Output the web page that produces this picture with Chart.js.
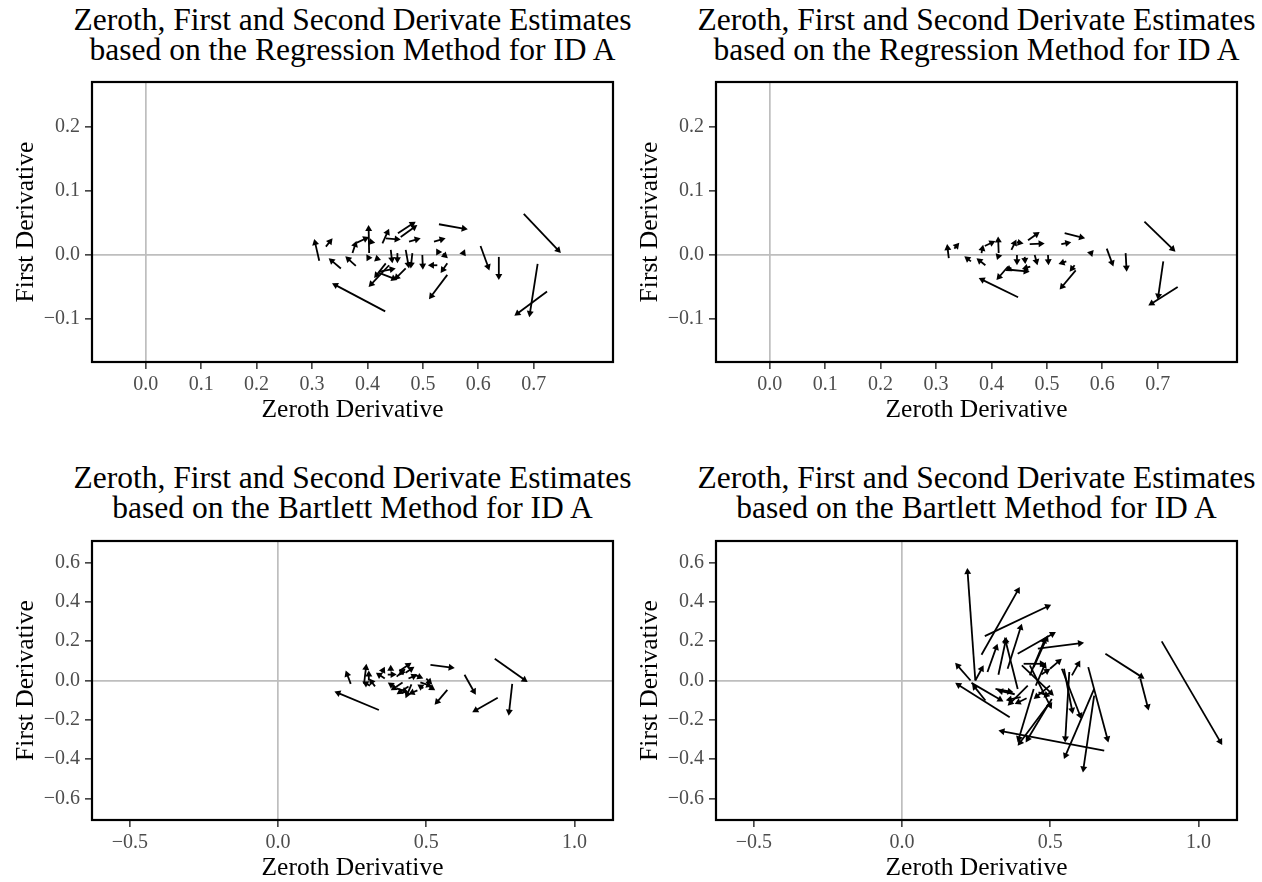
<!DOCTYPE html>
<html>
<head>
<meta charset="utf-8">
<script src="https://cdn.jsdelivr.net/npm/chart.js@4.4.0/dist/chart.umd.min.js"></script>
<style>
  body { margin: 0; background: #fff; }
  #page { position: relative; width: 1262px; height: 882px; }
  .panel { position: absolute; width: 631px; height: 441px; overflow: hidden; }
  .panel canvas { position: absolute; left: 0; top: 0; }
  .title { position: absolute; width: 800px; text-align: center; white-space: nowrap;
           font-family: "Liberation Serif", "Times New Roman", serif; font-size: 31.5px;
           line-height: 30px; color: #000; }
</style>
</head>
<body>
<div id="page"></div>
<script>
// each arrow: [zeroth start, first start, zeroth end, first end]
const regressionLeft = [
  [0.313,-0.009,0.304,0.025], [0.325,0.013,0.337,0.026], [0.352,-0.021,0.330,-0.005],
  [0.379,-0.017,0.360,-0.002], [0.432,-0.088,0.336,-0.044], [0.373,0.003,0.380,0.022],
  [0.380,0.019,0.403,0.028], [0.403,0.003,0.402,0.047], [0.403,0.021,0.414,0.019],
  [0.427,0.018,0.439,0.041], [0.433,0.026,0.460,0.024], [0.455,0.034,0.487,0.052],
  [0.460,0.028,0.490,0.047], [0.475,0.021,0.496,0.026], [0.469,0.008,0.475,-0.021],
  [0.499,0.000,0.500,-0.023], [0.439,-0.016,0.402,-0.050], [0.469,-0.021,0.448,-0.039],
  [0.442,0.008,0.445,-0.013], [0.454,0.003,0.454,-0.013], [0.421,-0.026,0.451,-0.021],
  [0.433,-0.013,0.412,-0.036], [0.421,-0.028,0.454,-0.039], [0.481,0.003,0.478,-0.021],
  [0.403,-0.006,0.398,0.001], [0.420,-0.004,0.412,-0.010], [0.529,0.048,0.581,0.040],
  [0.520,0.021,0.541,0.026], [0.682,0.064,0.749,0.003], [0.604,0.014,0.620,-0.024],
  [0.637,-0.003,0.637,-0.039], [0.707,-0.014,0.692,-0.097], [0.724,-0.057,0.665,-0.095],
  [0.544,-0.031,0.511,-0.069], [0.544,-0.013,0.532,-0.028], [0.526,-0.016,0.509,-0.016],
  [0.574,0.005,0.576,0.009], [0.528,0.004,0.524,0.010], [0.536,0.002,0.545,-0.005]
];
const regressionRight = [
  [0.323,-0.005,0.320,0.017], [0.333,0.010,0.342,0.019], [0.363,-0.010,0.351,-0.002],
  [0.389,-0.016,0.373,-0.005], [0.448,-0.066,0.377,-0.036], [0.382,0.003,0.385,0.016],
  [0.388,0.014,0.407,0.022], [0.413,0.003,0.412,0.029], [0.436,0.008,0.445,0.024],
  [0.446,0.020,0.458,0.018], [0.466,0.023,0.487,0.036], [0.469,0.017,0.496,0.018],
  [0.430,-0.018,0.409,-0.039], [0.433,-0.023,0.469,-0.026], [0.446,0.000,0.446,-0.016],
  [0.460,-0.003,0.461,-0.014], [0.478,0.000,0.483,-0.016], [0.502,0.000,0.503,-0.016],
  [0.436,-0.020,0.425,-0.025], [0.470,-0.018,0.455,-0.022], [0.412,-0.003,0.410,-0.008],
  [0.532,0.034,0.569,0.026], [0.526,0.017,0.544,0.020], [0.676,0.052,0.732,0.005],
  [0.608,0.010,0.620,-0.018], [0.642,0.003,0.644,-0.026], [0.710,-0.010,0.700,-0.070],
  [0.736,-0.050,0.683,-0.079], [0.552,-0.024,0.523,-0.054], [0.550,-0.016,0.541,-0.026],
  [0.535,-0.010,0.521,-0.014], [0.580,0.002,0.582,-0.003]
];
const bartlettLeft = [
  [0.340,-0.150,0.190,-0.056], [0.245,-0.017,0.228,0.051], [0.290,-0.017,0.298,0.085],
  [0.310,-0.026,0.284,-0.005], [0.306,0.000,0.306,0.051], [0.327,-0.030,0.307,0.010],
  [0.36,0.01,0.33,0.04], [0.37,0.03,0.40,0.03], [0.40,0.02,0.43,0.06],
  [0.41,0.05,0.45,0.09], [0.43,0.04,0.46,0.07], [0.44,0.01,0.47,0.03],
  [0.46,0.03,0.49,0.01], [0.48,-0.01,0.52,-0.03], [0.50,0.01,0.52,-0.02],
  [0.51,-0.03,0.53,-0.05], [0.42,-0.01,0.38,-0.05], [0.44,-0.03,0.40,-0.07],
  [0.45,-0.02,0.43,-0.09], [0.40,-0.04,0.44,-0.06], [0.39,-0.03,0.37,-0.01],
  [0.47,-0.05,0.44,-0.07], [0.49,-0.04,0.47,-0.02], [0.35,0.04,0.36,0.07],
  [0.38,0.05,0.38,0.08], [0.42,0.03,0.41,0.06], [0.514,0.080,0.596,0.063],
  [0.629,0.029,0.667,-0.073], [0.731,0.111,0.842,-0.008], [0.790,-0.017,0.778,-0.179],
  [0.741,-0.088,0.655,-0.162], [0.571,-0.048,0.528,-0.124]
];
const bartlettRight = [
  [0.247,0.000,0.220,0.573], [0.268,0.131,0.397,0.476], [0.279,0.226,0.503,0.386],
  [0.231,0.000,0.179,0.090], [0.363,-0.187,0.179,-0.012], [0.234,-0.012,0.342,-0.107],
  [0.281,-0.102,0.236,-0.017], [0.247,0.000,0.275,0.077], [0.288,0.043,0.322,0.187],
  [0.325,0.029,0.352,0.221], [0.390,-0.043,0.346,0.221], [0.356,0.060,0.404,0.289],
  [0.390,0.136,0.519,0.247], [0.444,0.068,0.492,0.230], [0.431,0.026,0.485,0.221],
  [0.458,0.162,0.614,0.192], [0.499,0.060,0.539,0.111], [0.573,0.026,0.601,0.102],
  [0.410,0.085,0.485,0.085], [0.628,0.068,0.696,-0.315], [0.539,0.060,0.605,-0.196],
  [0.546,0.060,0.576,-0.170], [0.648,-0.043,0.546,-0.400], [0.648,-0.077,0.610,-0.468],
  [0.682,-0.357,0.325,-0.255], [0.686,0.136,0.818,0.009], [0.804,0.009,0.832,-0.153],
  [0.876,0.199,1.080,-0.328], [0.564,0.043,0.550,-0.315], [0.499,-0.111,0.390,-0.332],
  [0.505,-0.094,0.417,-0.315], [0.444,-0.043,0.390,-0.315], [0.424,-0.026,0.356,-0.128],
  [0.404,0.077,0.512,-0.077], [0.431,0.077,0.505,-0.145], [0.315,-0.043,0.376,-0.060],
  [0.451,-0.026,0.485,0.094], [0.499,-0.026,0.444,-0.094], [0.380,-0.070,0.320,-0.050],
  [0.400,-0.085,0.350,-0.100], [0.420,-0.090,0.380,-0.120], [0.460,-0.060,0.500,-0.080],
  [0.470,0.030,0.500,0.060]
];

const xTicksRegression = [0, 0.1, 0.2, 0.3, 0.4, 0.5, 0.6, 0.7];
const yTicksRegression = [-0.1, 0, 0.1, 0.2];
const xTicksBartlett = [-0.5, 0, 0.5, 1.0];
const yTicksBartlett = [-0.6, -0.4, -0.2, 0, 0.2, 0.4, 0.6];
const xRangeRegression = [-0.097, 0.843];
const yRangeRegression = [-0.167, 0.27];
const xRangeBartlett = [-0.628, 1.13];
const yRangeBartlett = [-0.71, 0.71];

const titleLine1 = 'Zeroth, First and Second Derivate Estimates';
const titleRegression = 'based on the Regression Method for ID A';
const titleBartlett = 'based on the Bartlett Method for ID A';

const serif = '"Liberation Serif", "Times New Roman", serif';

const arrowPlugin = {
  id: 'arrows',
  afterDatasetsDraw(chart) {
    const ctx = chart.ctx;
    const xs = chart.scales.x, ys = chart.scales.y;
    ctx.save();
    ctx.strokeStyle = '#000';
    ctx.fillStyle = '#000';
    ctx.lineWidth = 1.8;
    chart.data.datasets[0].data.forEach(p => {
      const x0 = xs.getPixelForValue(p.x), y0 = ys.getPixelForValue(p.y);
      const x1 = xs.getPixelForValue(p.x2), y1 = ys.getPixelForValue(p.y2);
      const ang = Math.atan2(y1 - y0, x1 - x0);
      const len = 7, wing = Math.PI / 6;
      ctx.beginPath();
      ctx.moveTo(x0, y0);
      ctx.lineTo(x1 - Math.cos(ang) * 3, y1 - Math.sin(ang) * 3);
      ctx.stroke();
      ctx.beginPath();
      ctx.moveTo(x1, y1);
      ctx.lineTo(x1 - len * Math.cos(ang - wing), y1 - len * Math.sin(ang - wing));
      ctx.lineTo(x1 - len * Math.cos(ang + wing), y1 - len * Math.sin(ang + wing));
      ctx.closePath();
      ctx.fill();
    });
    ctx.restore();
  },
  afterDraw(chart) {
    // panel border
    const a = chart.chartArea, ctx = chart.ctx;
    ctx.save();
    ctx.strokeStyle = '#000';
    ctx.lineWidth = 2.2;
    ctx.strokeRect(a.left, a.top, a.right - a.left, a.bottom - a.top);
    ctx.restore();
  }
};

function fmt(v) {
  return (v < 0 ? '\u2212' : '') + Math.abs(v).toFixed(1);
}

function makePanel(arrows, subtitle, xRange, yRange, xTicks, yTicks, row, col) {
  const div = document.createElement('div');
  div.className = 'panel';
  div.style.left = (col * 631) + 'px';
  div.style.top = (row * 441) + 'px';
  document.getElementById('page').appendChild(div);

  const boxCenter = col === 0 ? 352.5 : 345.5;
  const t = document.createElement('div');
  t.className = 'title';
  t.style.left = (boxCenter - 400) + 'px';
  t.style.top = (row === 0 ? 5 : 22) + 'px';
  t.innerHTML = titleLine1 + '<br>' + subtitle;
  div.appendChild(t);

  const canvas = document.createElement('canvas');
  canvas.width = 631;
  canvas.height = 441;
  div.appendChild(canvas);

  const xHeight = row === 0 ? 79 : 62;
  const zeroGrid = c => (c.tick && c.tick.value === 0 ? '#bebebe' : 'rgba(0,0,0,0)');

  new Chart(canvas.getContext('2d'), {
    type: 'scatter',
    data: {
      datasets: [{
        data: arrows.map(a => ({ x: a[0], y: a[1], x2: a[2], y2: a[3] })),
        pointRadius: 0,
        pointHoverRadius: 0
      }]
    },
    options: {
      responsive: false,
      animation: false,
      layout: {
        padding: { left: col === 0 ? 7 : 0, right: col === 0 ? 18 : 25, top: row === 0 ? 82 : 100, bottom: 0 }
      },
      plugins: { legend: { display: false }, tooltip: { enabled: false } },
      scales: {
        x: {
          type: 'linear',
          min: xRange[0],
          max: xRange[1],
          afterBuildTicks: s => { s.ticks = xTicks.map(v => ({ value: v })); },
          afterFit: s => { s.height = xHeight; },
          ticks: { callback: fmt, color: '#4d4d4d', padding: 4, maxRotation: 0,
                   font: { family: serif, size: 20 } },
          grid: { color: zeroGrid, lineWidth: 1.7, tickLength: 7, tickColor: '#333', tickWidth: 1.5 },
          border: { display: false },
          title: { display: true, text: 'Zeroth Derivative', color: '#000',
                   font: { family: serif, size: 25.5, lineHeight: 1.1 },
                   padding: { top: 0, bottom: row === 0 ? 17 : 0 } }
        },
        y: {
          type: 'linear',
          min: yRange[0],
          max: yRange[1],
          afterBuildTicks: s => { s.ticks = yTicks.map(v => ({ value: v })); },
          afterFit: s => { s.width = 85; },
          ticks: { callback: fmt, color: '#4d4d4d', padding: 5,
                   font: { family: serif, size: 20 } },
          grid: { color: zeroGrid, lineWidth: 1.7, tickLength: 7, tickColor: '#333', tickWidth: 1.5 },
          border: { display: false },
          title: { display: true, text: 'First Derivative', color: '#000',
                   font: { family: serif, size: 25.5, lineHeight: 1.2 },
                   padding: { top: 4, bottom: 0 } }
        }
      }
    },
    plugins: [arrowPlugin]
  });
}

makePanel(regressionLeft, titleRegression, xRangeRegression, yRangeRegression, xTicksRegression, yTicksRegression, 0, 0);
makePanel(regressionRight, titleRegression, xRangeRegression, yRangeRegression, xTicksRegression, yTicksRegression, 0, 1);
makePanel(bartlettLeft, titleBartlett, xRangeBartlett, yRangeBartlett, xTicksBartlett, yTicksBartlett, 1, 0);
makePanel(bartlettRight, titleBartlett, xRangeBartlett, yRangeBartlett, xTicksBartlett, yTicksBartlett, 1, 1);
</script>
</body>
</html>
